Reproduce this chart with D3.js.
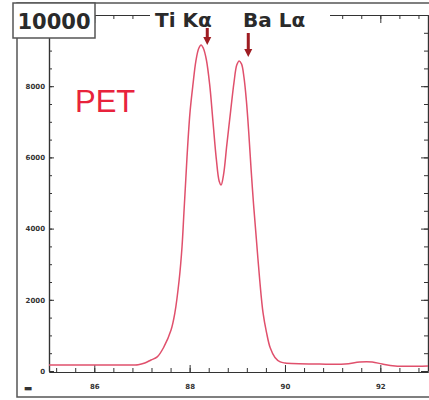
<!DOCTYPE html>
<html><head><meta charset="utf-8">
<script src="https://cdn.jsdelivr.net/npm/d3@7"></script>
<style>
html,body{margin:0;padding:0;background:#fff;}
svg{display:block;}
</style></head>
<body>
<svg id="chart" width="429" height="400"></svg>
<script>
// ---- data ----
const angle = [85.05,86.12,86.81,86.92,87.06,87.19,87.32,87.46,87.61,87.69,87.78,87.84,87.88,87.92,87.96,88.01,88.07,88.13,88.19,88.24,88.29,88.35,88.42,88.49,88.56,88.62,88.66,88.71,88.78,88.86,88.93,88.99,89.04,89.09,89.14,89.19,89.24,89.29,89.34,89.40,89.47,89.54,89.61,89.69,89.79,89.90,90.00,90.73,91.26,91.57,91.83,92.04,92.31,93.00];
const intensity = [170,170,170,175,225,310,395,675,1150,1630,2555,3485,4440,5400,6350,7300,8050,8700,9060,9160,9060,8750,8050,7000,5950,5330,5225,5500,6350,7300,8100,8600,8710,8620,8250,7600,6700,5650,4700,3700,2555,1630,1100,650,380,255,225,195,195,255,255,195,140,140];
const xMajorTicks = [86,88,90,92];
const xMinorTicks = d3.range(85.2,93.0,0.4);
const yMajorTicks = [0,2000,4000,6000,8000];
const yMinorTicks = d3.range(500,10000,500);
const yMaxLabel = "10000";
const peakLabels = ["Ti K\u03B1","Ba L\u03B1"];
const peakArrowAngle = [88.37,89.23];
const crystalLabel = "PET";

// ---- drawing ----
const svg = d3.select("#chart");
const x = d3.scaleLinear().domain([85.05,93.0]).range([49,428]);
const y = d3.scaleLinear().domain([0,10000]).range([371,15]);
const axisColor = "#333";

// outer frame
svg.append("rect").attr("x",17).attr("y",3).attr("width",440).attr("height",394)
  .attr("fill","none").attr("stroke","#555").attr("stroke-width",1.5);

function styleAxis(g){
  g.selectAll(".domain").attr("stroke",axisColor).attr("stroke-width",1.2);
  g.selectAll(".tick line").attr("stroke",axisColor).attr("stroke-width",1);
  g.selectAll("text").attr("fill","#333").attr("font-family","DejaVu Sans").attr("font-weight","bold").attr("font-size",7);
}
// bottom
svg.append("g").attr("transform","translate(0,372)")
  .call(d3.axisBottom(x).tickValues(xMinorTicks).tickSize(-4).tickSizeOuter(0).tickFormat(""))
  .call(styleAxis);
svg.append("g").attr("transform","translate(0,372)")
  .call(d3.axisBottom(x).tickValues(xMajorTicks).tickSize(-7).tickSizeOuter(0).tickPadding(12).tickFormat(d3.format("d")))
  .call(styleAxis);
// top
svg.append("g").attr("transform","translate(0,15)")
  .call(d3.axisTop(x).tickValues(xMinorTicks).tickSize(-4).tickSizeOuter(0).tickFormat(""))
  .call(styleAxis);
svg.append("g").attr("transform","translate(0,15)")
  .call(d3.axisTop(x).tickValues(xMajorTicks).tickSize(-8).tickSizeOuter(0).tickFormat(""))
  .call(styleAxis);
// left
svg.append("g").attr("transform","translate(49,0)")
  .call(d3.axisLeft(y).tickValues(yMinorTicks).tickSize(-3).tickSizeOuter(0).tickFormat(""))
  .call(styleAxis);
svg.append("g").attr("transform","translate(49,0)")
  .call(d3.axisLeft(y).tickValues(yMajorTicks).tickSize(-5).tickSizeOuter(0).tickPadding(4).tickFormat(d3.format("d")))
  .call(styleAxis);
// right
svg.append("g").attr("transform","translate(428,0)")
  .call(d3.axisRight(y).tickValues(yMinorTicks).tickSize(-4).tickSizeOuter(0).tickFormat(""))
  .call(styleAxis);
svg.append("g").attr("transform","translate(428,0)")
  .call(d3.axisRight(y).tickValues(yMajorTicks.concat([10000])).tickSize(-7).tickSizeOuter(0).tickFormat(""))
  .call(styleAxis);

// unit blob at bottom-left
svg.append("text").attr("x",28).attr("y",391).attr("text-anchor","middle")
  .attr("font-family","DejaVu Sans").attr("font-weight","bold").attr("font-size",9).attr("fill","#333").text("\u25AC");

// spectrum
const pts = angle.map((a,i)=>[a,intensity[i]]);
svg.append("path").datum(pts)
  .attr("d", d3.line().x(d=>x(d[0])).y(d=>y(d[1])).curve(d3.curveCatmullRom.alpha(0.5)))
  .attr("fill","none").attr("stroke","#e0506c").attr("stroke-width",1.5);

// white band behind peak labels
svg.append("rect").attr("x",150).attr("y",6).attr("width",180).attr("height",22).attr("fill","#fff");

// peak labels
const labelX = [155,243];
peakLabels.forEach((t,i)=>{
  svg.append("text").attr("x",labelX[i]).attr("y",27)
    .attr("font-family","DejaVu Sans").attr("font-weight","bold").attr("font-size",20)
    .attr("fill","#2a2a2a").text(t);
});
// arrows
const arrowTop = [28,33], arrowTip = [45,57];
peakArrowAngle.forEach((a,i)=>{
  const cx = x(a);
  svg.append("rect").attr("x",cx-1.5).attr("y",arrowTop[i]).attr("width",3).attr("height",arrowTip[i]-arrowTop[i]-7).attr("fill","#9e1c22");
  svg.append("path").attr("d",`M${cx-4},${arrowTip[i]-8} L${cx+4},${arrowTip[i]-8} L${cx},${arrowTip[i]} Z`).attr("fill","#9e1c22");
});

// 10000 box
svg.append("rect").attr("x",13).attr("y",3).attr("width",82).attr("height",35)
  .attr("fill","#fff").attr("stroke","#555").attr("stroke-width",1.5);
svg.append("text").attr("x",54).attr("y",28.5).attr("text-anchor","middle")
  .attr("font-family","DejaVu Sans").attr("font-weight","bold").attr("font-size",21).attr("fill","#2a2a2a").text(yMaxLabel);

// PET
svg.append("text").attr("x",75).attr("y",112)
  .attr("font-family","Liberation Sans").attr("font-size",31).attr("fill","#e8233c").text(crystalLabel);
</script>
</body></html>
